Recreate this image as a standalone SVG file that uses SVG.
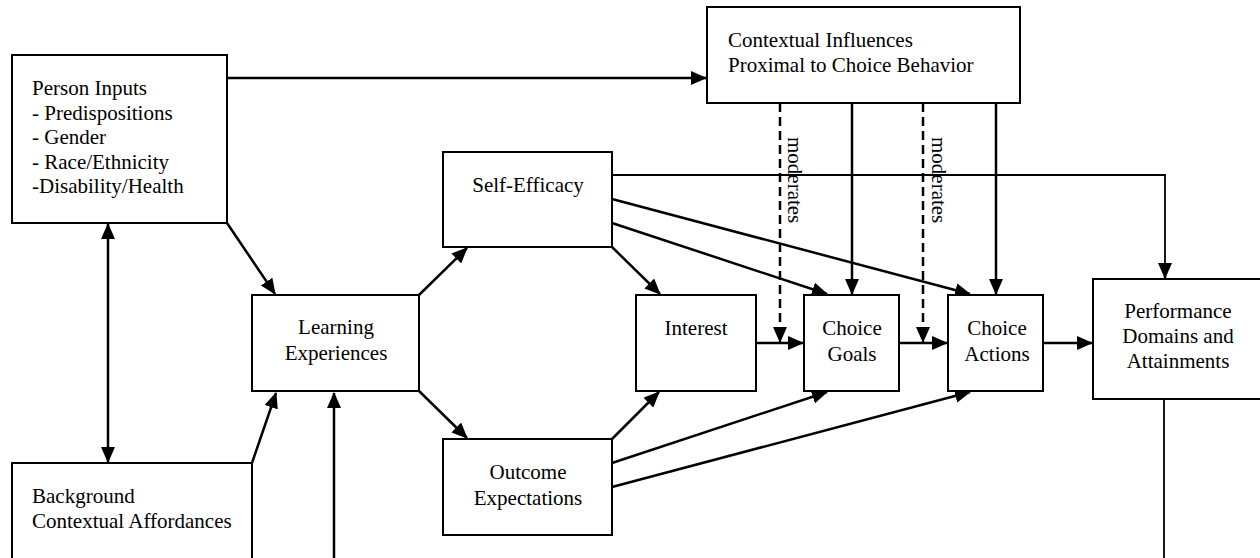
<svg xmlns="http://www.w3.org/2000/svg" width="1260" height="558" viewBox="0 0 1260 558">
<style>
.box{fill:#fff;stroke:#000;stroke-width:2}
.t{font-family:"Liberation Serif","Times New Roman",Times,serif;font-size:21px;fill:#000}
.c{text-anchor:middle}
.a{fill:none;stroke:#000;stroke-width:2.5;marker-end:url(#ah)}
.thin{fill:none;stroke:#000;stroke-width:1.8}
.d{fill:none;stroke:#000;stroke-width:2.5;stroke-dasharray:9 5;marker-end:url(#ah)}
</style>
<defs>
<marker id="ah" markerUnits="userSpaceOnUse" markerWidth="16" markerHeight="14" viewBox="0 0 16 14" refX="15" refY="7" orient="auto-start-reverse">
<path d="M0,0 L16,7 L0,14 z" fill="#000"/>
</marker>
</defs>
<rect width="1260" height="558" fill="#fff"/>
<g id="connectors">
<line class="a" x1="227" y1="78" x2="706" y2="78"/>
<line class="a" x1="108" y1="224" x2="108" y2="462" marker-start="url(#ah)"/>
<line class="a" x1="227" y1="223" x2="275" y2="294"/>
<line class="a" x1="252" y1="463" x2="276" y2="393"/>
<line class="a" x1="334" y1="558" x2="334" y2="393"/>
<line class="a" x1="419" y1="295" x2="467" y2="248"/>
<line class="a" x1="419" y1="391" x2="467" y2="438"/>
<line class="a" x1="612" y1="247" x2="660" y2="294"/>
<line class="a" x1="612" y1="439" x2="659" y2="392"/>
<line class="a" x1="612" y1="223" x2="827" y2="294"/>
<line class="a" x1="612" y1="199" x2="970" y2="294"/>
<line class="a" x1="612" y1="463" x2="827" y2="392"/>
<line class="a" x1="612" y1="487" x2="970" y2="392"/>
<polyline class="thin" points="612,175 1165,175 1165,266"/>
<line class="a" x1="1165" y1="265" x2="1165" y2="278"/>
<line class="thin" x1="1164" y1="399" x2="1164" y2="558"/>
<line class="a" x1="756" y1="343" x2="803" y2="343"/>
<line class="a" x1="899" y1="343" x2="947" y2="343"/>
<line class="a" x1="1043" y1="343" x2="1092" y2="343"/>
<line class="a" x1="852" y1="103" x2="852" y2="294"/>
<line class="a" x1="996" y1="103" x2="996" y2="294"/>
<line class="d" x1="780" y1="103" x2="780" y2="342"/>
<line class="d" x1="923" y1="103" x2="923" y2="342"/>
<text class="t" transform="translate(788,137) rotate(90)">moderates</text>
<text class="t" transform="translate(932,137) rotate(90)">moderates</text>
</g>
<g id="person-inputs">
<rect class="box" x="12" y="55" width="215" height="168"/>
<text class="t" x="32" y="95">Person Inputs</text>
<text class="t" x="32" y="119.5">- Predispositions</text>
<text class="t" x="32" y="144">- Gender</text>
<text class="t" x="32" y="168.5">- Race/Ethnicity</text>
<text class="t" x="32" y="193">-Disability/Health</text>
</g>
<g id="background">
<rect class="box" x="12" y="463" width="240" height="110"/>
<text class="t" x="32" y="503">Background</text>
<text class="t" x="32" y="528">Contextual Affordances</text>
</g>
<g id="contextual-influences">
<rect class="box" x="707" y="7" width="313" height="96"/>
<text class="t" x="728" y="47">Contextual Influences</text>
<text class="t" x="728" y="72">Proximal to Choice Behavior</text>
</g>
<g id="learning-experiences">
<rect class="box" x="252" y="295" width="167" height="96"/>
<text class="t c" x="336" y="334">Learning</text>
<text class="t c" x="336" y="360">Experiences</text>
</g>
<g id="self-efficacy">
<rect class="box" x="443" y="152" width="169" height="95"/>
<text class="t c" x="528" y="192">Self-Efficacy</text>
</g>
<g id="outcome-expectations">
<rect class="box" x="443" y="439" width="169" height="96"/>
<text class="t c" x="528" y="479">Outcome</text>
<text class="t c" x="528" y="505">Expectations</text>
</g>
<g id="interest">
<rect class="box" x="636" y="295" width="120" height="96"/>
<text class="t c" x="696" y="335">Interest</text>
</g>
<g id="choice-goals">
<rect class="box" x="804" y="295" width="95" height="96"/>
<text class="t c" x="852" y="335">Choice</text>
<text class="t c" x="852" y="361">Goals</text>
</g>
<g id="choice-actions">
<rect class="box" x="948" y="295" width="95" height="96"/>
<text class="t c" x="997" y="335">Choice</text>
<text class="t c" x="997" y="361">Actions</text>
</g>
<g id="performance">
<rect class="box" x="1093" y="279" width="175" height="120"/>
<text class="t c" x="1178" y="318">Performance</text>
<text class="t c" x="1178" y="343">Domains and</text>
<text class="t c" x="1178" y="368">Attainments</text>
</g>
</svg>
